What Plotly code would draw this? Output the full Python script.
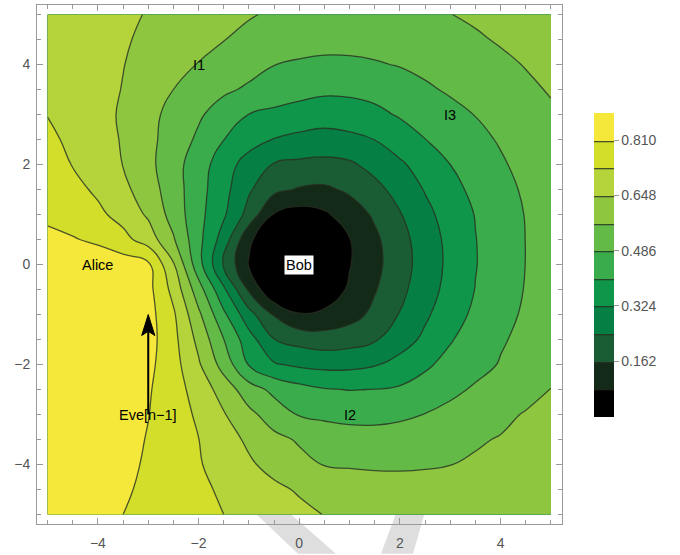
import plotly.graph_objects as go

# ---------------- data ----------------
x_vals = [-5, -4.5, -4, -3.5, -3, -2.5, -2, -1.5, -1, -0.5, 0, 0.5, 1, 1.5, 2, 2.5, 3, 3.5, 4, 4.5, 5]
y_vals = [-5, -4.5, -4, -3.5, -3, -2.5, -2, -1.5, -1, -0.5, 0, 0.5, 1, 1.5, 2, 2.5, 3, 3.5, 4, 4.5, 5]

# one row per y value (bottom to top), one entry per x value
z_rows = [
    [.86, .845, .83, .81, .79, .77, .749, .729, .708, .688, .667, .646, .636, .627, .62, .614, .61, .607, .607, .608, .612],
    [.862, .85, .836, .82, .795, .77, .744, .718, .691, .664, .640, .622, .61, .601, .595, .592, .592, .594, .597, .603, .609],
    [.866, .862, .848, .83, .80, .768, .735, .698, .659, .623, .588, .564, .559, .556, .557, .561, .566, .575, .584, .595, .605],
    [.872, .876, .868, .84, .805, .767, .73, .681, .634, .587, .559, .543, .528, .522, .527, .538, .551, .56, .571, .585, .598],
    [.876, .882, .88, .855, .812, .765, .717, .654, .587, .529, .481, .466, .457, .459, .47, .488, .509, .53, .551, .572, .59],
    [.88, .885, .886, .87, .818, .762, .697, .612, .522, .466, .432, .41, .403, .406, .415, .435, .467, .496, .519, .543, .568],
    [.88, .885, .888, .875, .83, .759, .658, .535, .40, .332, .31, .30, .303, .318, .352, .393, .428, .46, .491, .52, .55],
    [.88, .884, .885, .875, .842, .752, .626, .487, .358, .244, .215, .20, .21, .235, .286, .341, .399, .44, .478, .505, .535],
    [.875, .88, .88, .87, .84, .741, .583, .421, .272, .155, .085, .095, .13, .182, .247, .311, .37, .421, .461, .497, .528],
    [.865, .872, .875, .862, .835, .704, .521, .338, .15, .0, .01, .035, .091, .156, .222, .289, .35, .407, .45, .49, .515],
    [.855, .862, .865, .85, .825, .656, .435, .237, .075, .01, .0, .02, .077, .14, .209, .278, .343, .402, .445, .487, .512],
    [.822, .816, .794, .753, .691, .575, .428, .287, .095, .01, .01, .03, .078, .146, .215, .283, .346, .403, .446, .487, .512],
    [.80, .771, .745, .702, .636, .535, .43, .335, .213, .075, .045, .068, .12, .174, .238, .302, .358, .408, .449, .489, .514],
    [.78, .751, .716, .668, .605, .524, .435, .35, .253, .182, .155, .148, .175, .22, .272, .329, .38, .424, .463, .496, .521],
    [.765, .726, .692, .646, .588, .518, .441, .364, .287, .238, .226, .222, .231, .268, .312, .358, .405, .441, .477, .508, .532],
    [.746, .712, .678, .642, .588, .532, .472, .406, .36, .321, .305, .292, .305, .325, .364, .404, .435, .466, .493, .515, .545],
    [.727, .698, .671, .639, .59, .543, .497, .449, .404, .385, .37, .363, .368, .385, .413, .438, .463, .488, .511, .534, .558],
    [.722, .70, .675, .645, .606, .567, .533, .499, .475, .455, .435, .42, .422, .432, .452, .474, .496, .516, .535, .555, .572],
    [.715, .693, .672, .65, .622, .593, .564, .538, .512, .487, .478, .474, .475, .48, .49, .506, .522, .538, .554, .57, .585],
    [.708, .69, .672, .655, .635, .613, .591, .569, .547, .529, .514, .506, .506, .512, .521, .532, .545, .559, .573, .586, .597],
    [.70, .687, .673, .658, .645, .628, .61, .592, .573, .557, .543, .535, .535, .541, .549, .558, .566, .577, .588, .599, .61],
]

level_start = 0.081
level_step = 0.081
level_end = 0.810
z_low = 0.0
z_high = 0.891

band_colors = ["#000000", "#142a18", "#1a5d35", "#067f44", "#10964a", "#3bac4b",
               "#64ba47", "#8fc640", "#b5d33a", "#d3de2b", "#f6e83b"]

colorbar_ticks = [0.162, 0.324, 0.486, 0.648, 0.810]
axis_ticks = [-4, -2, 0, 2, 4]

label_text = ["Alice", "Bob", "I1", "I2", "I3", "Eve[n\u22121]"]
label_x = [-4, 0, -2, 1, 3, -3]
label_y = [0, 0, 4, -3, 3, -3]
label_boxed = [False, True, False, False, False, False]

arrow_from = (-3, -3)
arrow_to = (-3, -1)

# ---------------- figure ----------------
W, H = 680, 555
M_L, M_R, M_T, M_B = 37, 118, 4, 27
plot_w = W - M_L - M_R
plot_h = H - M_T - M_B


def px_to_paper(px, py):
    return (px - M_L) / plot_w, (H - M_B - py) / plot_h


n_bands = len(band_colors)
colorscale = [[i / (n_bands - 1), c] for i, c in enumerate(band_colors)]

fig = go.Figure()
fig.add_trace(go.Contour(
    x=x_vals, y=y_vals, z=z_rows,
    zmin=z_low, zmax=z_high, zauto=False,
    autocontour=False,
    contours=dict(start=level_start, end=level_end + 1e-6, size=level_step,
                  coloring="fill", showlines=True),
    colorscale=colorscale,
    line=dict(color="rgba(40,48,34,0.8)", width=1.3, smoothing=1.3),
    hoverinfo="skip",
    colorbar=dict(
        x=1.061, xanchor="left", xpad=0,
        y=0.5, yanchor="middle", ypad=0,
        len=0.586, lenmode="fraction", thickness=20,
        outlinewidth=0,
        tickmode="array", tickvals=colorbar_ticks,
        ticktext=[f"{v:.3f}" for v in colorbar_ticks],
        ticks="outside", ticklen=5, tickcolor="#999999",
        tickfont=dict(family="Liberation Sans, Arial", size=14, color="#555555"),
    ),
))

# faint grey background stroke visible below the plot (decoration in the source image)
for poly in ([(250, 512), (284, 512), (336, 558), (298, 558)],
             [(398, 512), (426, 512), (413, 558), (381, 558)]):
    pts = [px_to_paper(a, b) for a, b in poly]
    path = "M " + " L ".join(f"{a:.4f},{b:.4f}" for a, b in pts) + " Z"
    fig.add_shape(type="path", xref="paper", yref="paper", path=path,
                  fillcolor="#dedede", line=dict(width=0), layer="below")

# labels
for t, lx, ly, boxed in zip(label_text, label_x, label_y, label_boxed):
    fig.add_annotation(
        x=lx, y=ly, xref="x", yref="y", text=t, showarrow=False,
        xanchor="center", yanchor="middle",
        font=dict(family="Liberation Sans, Arial", size=14.5, color="black"),
        bgcolor="white" if boxed else "rgba(0,0,0,0)",
        borderpad=1,
    )

# arrow (shaft + narrow head), sizes in data units
head_len = 0.42
head_half = 0.13
tx, ty = arrow_to
fx, fy = arrow_from
fig.add_shape(type="line", x0=fx, y0=fy, x1=tx, y1=ty - head_len * 0.8,
              line=dict(color="black", width=2), layer="above")
fig.add_shape(type="path",
              path=(f"M {tx},{ty} L {tx + head_half},{ty - head_len} "
                    f"L {tx},{ty - head_len * 0.8} L {tx - head_half},{ty - head_len} Z"),
              fillcolor="black", line=dict(color="black", width=1), layer="above")

axis_common = dict(
    showline=True, linecolor="#9a9a9a", linewidth=1, mirror="allticks",
    ticks="inside", ticklen=6, tickcolor="#9a9a9a", tickwidth=1,
    tickmode="array", tickvals=axis_ticks,
    minor=dict(dtick=0.5, tick0=0, ticks="inside", ticklen=4, tickcolor="#9a9a9a"),
    showgrid=False, zeroline=False,
    tickfont=dict(family="Liberation Sans, Arial", size=14, color="#555555"),
)
fig.update_xaxes(range=[-5.21, 5.22], ticklabelstandoff=6, **axis_common)
fig.update_yaxes(range=[-5.19, 5.19], ticklabelstandoff=3, **axis_common)

fig.update_layout(
    width=W, height=H,
    margin=dict(l=M_L, r=M_R, t=M_T, b=M_B),
    paper_bgcolor="white", plot_bgcolor="white",
    showlegend=False,
)

fig.write_html("out.html")
